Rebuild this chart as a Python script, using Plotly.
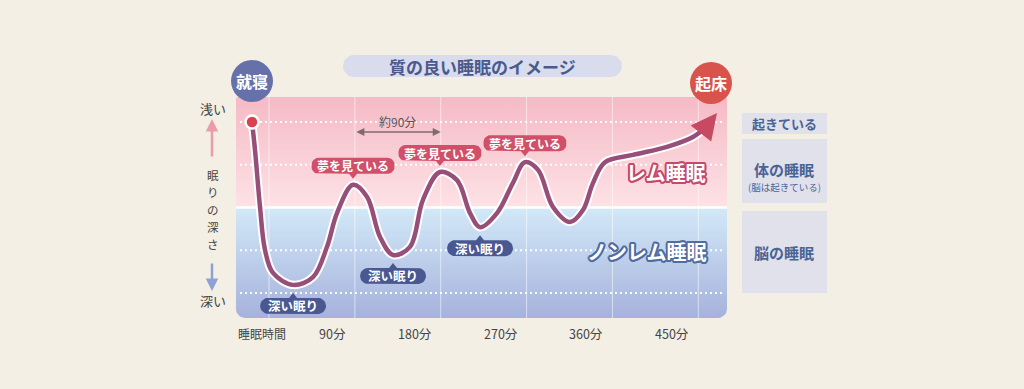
import numpy as np
import plotly.graph_objects as go

# ---------------- data ----------------
# sleep curve: time after falling asleep (minutes) vs sleep level
# level scale: 0 = deep sleep, 1 = light non-REM, 2 = REM/non-REM border, 3 = REM, 4 = awake
time_min = [-17.8, -14.7, -9.4, -4.2, 4.2, 25.2, 46.1, 60.8, 71.3, 88.1, 102.7, 116.4,
            130.0, 147.8, 161.4, 179.2, 197.1, 210.7, 221.2, 239.0, 255.6, 268.3, 282.0,
            297.7, 315.5, 329.1, 339.6, 352.2, 381.6, 417.2, 444.4, 458.0]
depth_level = [4.0, 3.35, 2.01, 1.01, 0.47, 0.19, 0.37, 1.08, 1.87, 2.53, 2.25, 1.31,
               0.89, 1.08, 2.18, 2.83, 2.64, 1.87, 1.54, 1.87, 2.57, 3.06, 2.88,
               2.01, 1.66, 1.94, 2.57, 3.06, 3.23, 3.42, 3.65, 3.88]
wake_time, wake_level = 469.6, 4.21

grid_minutes = [0, 90, 180, 270, 360, 450]
tick_minutes = [90, 180, 270, 360, 450]
tick_labels = ["90分", "180分", "270分", "360分", "450分"]
guide_levels = [4, 3, 1, 0]          # dotted lines
border_level = 2                      # REM / non-REM border

dream_times = [88.1, 179.2, 268.3]
dream_levels = [2.53, 2.83, 3.06]
deep_times = [25.2, 130.0, 221.2]
deep_levels = [0.19, 0.89, 1.54]

depth_title_chars = ["眠", "り", "の", "深", "さ"]

FONT = "Noto Sans CJK JP"

# ---------------- pixel <-> data helpers (layout only) ----------------
SX, X0 = 0.954, 269.0
SY, Y0 = 42.75, 293.0


def dx(px):
    return (px - X0) / SX


def dy(py):
    return (Y0 - py) / SY


def px_of(x):
    return X0 + SX * x


def py_of(v):
    return Y0 - SY * v


def rrect(x0, y0, x1, y1, r=(0, 0, 0, 0), ptr=None):
    pts = []

    def arc(cx, cy, rad, a0, a1):
        if rad <= 0:
            return [(cx, cy)]
        ang = np.radians(np.linspace(a0, a1, 8))
        return [(cx + rad * np.cos(a), cy + rad * np.sin(a)) for a in ang]

    tl, tr, br, bl = r
    pts += arc(x0 + tl, y0 + tl, tl, 180, 270)
    if ptr and ptr[0] == "up":
        c, L, W = ptr[1:]
        pts += [(c - W / 2, y0), (c, y0 - L), (c + W / 2, y0)]
    pts += arc(x1 - tr, y0 + tr, tr, 270, 360)
    pts += arc(x1 - br, y1 - br, br, 0, 90)
    if ptr and ptr[0] == "down":
        c, L, W = ptr[1:]
        pts += [(c + W / 2, y1), (c, y1 + L), (c - W / 2, y1)]
    pts += arc(x0 + bl, y1 - bl, bl, 90, 180)
    pts.append(pts[0])
    return [dx(p[0]) for p in pts], [dy(p[1]) for p in pts]


fig = go.Figure()


def poly(xs, ys, color=None, gradient=None):
    kw = dict(x=xs, y=ys, mode="lines", fill="toself", line=dict(width=0),
              hoverinfo="skip", showlegend=False)
    if gradient:
        kw["fillgradient"] = dict(type="vertical", colorscale=gradient)
    else:
        kw["fillcolor"] = color
    fig.add_trace(go.Scatter(**kw))


# panel bands
PL, PR, PT, PB = 236, 727, 97, 318
PM = py_of(border_level)
xs, ys = rrect(PL, PT, PR, PM, (2, 2, 0, 0))
poly(xs, ys, gradient=[[0, "#fde2e6"], [1, "#f5bac5"]])
xs, ys = rrect(PL, PM, PR, PB, (0, 0, 9, 9))
poly(xs, ys, gradient=[[0, "#a6b2dc"], [1, "#d2e9f8"]])

# vertical grid lines
gx, gy = [], []
for m in grid_minutes:
    gx += [m, m, None]
    gy += [dy(PB), dy(PT), None]
fig.add_trace(go.Scatter(x=gx, y=gy, mode="lines", line=dict(color="rgba(255,255,255,0.55)", width=1),
                         hoverinfo="skip", showlegend=False))

# dotted guide lines
hx, hy = [], []
for lv in guide_levels:
    hx += [dx(PL + 4), dx(PR - 2), None]
    hy += [lv, lv, None]
fig.add_trace(go.Scatter(x=hx, y=hy, mode="lines", line=dict(color="rgba(255,255,255,0.95)", width=2, dash="2px,3px"),
                         hoverinfo="skip", showlegend=False))
# border line
fig.add_trace(go.Scatter(x=[dx(PL), dx(PR)], y=[border_level, border_level], mode="lines",
                         line=dict(color="white", width=2.5), hoverinfo="skip", showlegend=False))

# sleep curve (white outline + colored line)
fig.add_trace(go.Scatter(x=time_min, y=depth_level, mode="lines", line=dict(color="white", width=8.5, shape="spline"),
                         hoverinfo="skip", showlegend=False))
fig.add_trace(go.Scatter(x=time_min, y=depth_level, mode="lines", line=dict(color="#974f7a", width=4.5, shape="spline"),
                         hoverinfo="skip", showlegend=False))
# arrow head at the end
fig.add_annotation(x=wake_time, y=wake_level, ax=time_min[-1], ay=depth_level[-1], axref="x", ayref="y",
                   xref="x", yref="y", showarrow=True, arrowhead=2, arrowsize=1.3, arrowwidth=4,
                   arrowcolor="#c64a61", text="")
# start point
fig.add_trace(go.Scatter(x=[time_min[0]], y=[depth_level[0]], mode="markers",
                         marker=dict(size=13, color="#d8414f", line=dict(color="white", width=2.5)),
                         hoverinfo="skip", showlegend=False))

# callouts
for t, lv in zip(dream_times, dream_levels):
    cx, tip = px_of(t), py_of(lv) - 6
    w, h = 83, 16
    xs, ys = rrect(cx - w / 2, tip - 5 - h, cx + w / 2, tip - 5, (7, 7, 7, 7), ("down", cx, 5, 8))
    poly(xs, ys, color="#d14f69")
    fig.add_annotation(x=dx(cx), y=dy(tip - 5 - h / 2), text="夢を見ている", showarrow=False,
                       font=dict(family=FONT, size=12, color="white", weight="bold"))
for t, lv in zip(deep_times, deep_levels):
    cx, tip = px_of(t), py_of(lv) + 8
    w, h = 66, 16
    xs, ys = rrect(cx - w / 2, tip + 5, cx + w / 2, tip + 5 + h, (8, 8, 8, 8), ("up", cx, 5, 8))
    poly(xs, ys, color="#4a5892")
    fig.add_annotation(x=dx(cx), y=dy(tip + 5 + h / 2), text="深い眠り", showarrow=False,
                       font=dict(family=FONT, size=12.5, color="white", weight="bold"))

# title pill
xs, ys = rrect(343, 55, 622, 77, (11, 11, 11, 11))
poly(xs, ys, color="#d8dcec")
fig.add_annotation(x=dx(482), y=dy(66.5), text="質の良い睡眠のイメージ", showarrow=False,
                   font=dict(family=FONT, size=17, color="#4a5a8c", weight="bold"))

# bubbles
for cx, cy, col, label in [(252, 81, "#6771a9", "就寝"), (711, 83, "#d8534c", "起床")]:
    rr = 21
    fig.add_shape(type="circle", xref="x", yref="y", x0=dx(cx - rr), x1=dx(cx + rr),
                  y0=dy(cy + rr), y1=dy(cy - rr), fillcolor=col, line=dict(width=0))
    fig.add_annotation(x=dx(cx), y=dy(cy), text=label, showarrow=False,
                       font=dict(family=FONT, size=16, color="white", weight="bold"))

# right-side boxes
for (y0, y1) in [(113, 134), (139, 203), (211, 293)]:
    fig.add_shape(type="rect", xref="x", yref="y", x0=dx(742), x1=dx(827), y0=dy(y1), y1=dy(y0),
                  fillcolor="#e1e1eb", line=dict(width=0))
BOXC = "#4b6395"
fig.add_annotation(x=dx(784), y=dy(123.5), text="起きている", showarrow=False,
                   font=dict(family=FONT, size=13, color=BOXC, weight="bold"))
fig.add_annotation(x=dx(784), y=dy(169), text="体の睡眠", showarrow=False,
                   font=dict(family=FONT, size=15, color=BOXC, weight="bold"))
fig.add_annotation(x=dx(784), y=dy(187), text="(脳は起きている)", showarrow=False,
                   font=dict(family=FONT, size=9.5, color=BOXC))
fig.add_annotation(x=dx(784), y=dy(252), text="脳の睡眠", showarrow=False,
                   font=dict(family=FONT, size=15, color=BOXC, weight="bold"))


def outline(col, r=2.0):
    parts = []
    for a in range(0, 360, 30):
        ox, oy = r * np.cos(np.radians(a)), r * np.sin(np.radians(a))
        parts.append(f"{ox:.1f}px {oy:.1f}px 0 {col}")
    return ", ".join(parts)


fig.add_annotation(x=dx(666), y=dy(172), text="レム睡眠", showarrow=False,
                   font=dict(family=FONT, size=20, color="white", weight="bold", shadow=outline("#c4496c")))
fig.add_annotation(x=dx(647), y=dy(251), text="ノンレム睡眠", showarrow=False,
                   font=dict(family=FONT, size=20, color="white", weight="bold", shadow=outline("#4f6ca3")))

# 約90分 span
fig.add_annotation(x=180, y=dy(132), ax=90, ay=dy(132), axref="x", ayref="y", xref="x", yref="y",
                   showarrow=True, arrowhead=2, startarrowhead=2, arrowside="end+start", arrowsize=1,
                   startarrowsize=1, arrowwidth=1.6, arrowcolor="#7f6b6b", text="")
fig.add_annotation(x=135, y=dy(121), text="約90分", showarrow=False,
                   font=dict(family=FONT, size=12, color="#555555"))

# left axis labels
TXT = "#444444"
fig.add_annotation(x=dx(213), y=dy(108), text="浅い", showarrow=False, font=dict(family=FONT, size=13, color=TXT))
fig.add_annotation(x=dx(213), y=dy(300), text="深い", showarrow=False, font=dict(family=FONT, size=13, color=TXT))
for i, ch in enumerate(depth_title_chars):
    fig.add_annotation(x=dx(213), y=dy(175 + 17.3 * i), text=ch, showarrow=False,
                       font=dict(family=FONT, size=11.5, color=TXT))
fig.add_annotation(x=dx(212), y=dy(119), ax=dx(212), ay=dy(158), axref="x", ayref="y", xref="x", yref="y",
                   showarrow=True, arrowhead=2, arrowsize=1, arrowwidth=2.5, arrowcolor="#eb9ca8", text="")
fig.add_annotation(x=dx(212), y=dy(291), ax=dx(212), ay=dy(262), axref="x", ayref="y", xref="x", yref="y",
                   showarrow=True, arrowhead=2, arrowsize=1, arrowwidth=2.5, arrowcolor="#8ea0d6", text="")

# bottom time labels
fig.add_annotation(x=dx(262), y=dy(333), text="睡眠時間", showarrow=False, font=dict(family=FONT, size=12, color=TXT))
for m, lab in zip(tick_minutes, tick_labels):
    fig.add_annotation(x=m, y=dy(333), text=lab, showarrow=False, xanchor="right", xshift=-7,
                       font=dict(family=FONT, size=12.5, color=TXT))

fig.update_layout(
    width=1024, height=389, margin=dict(l=0, r=0, t=0, b=0, pad=0),
    paper_bgcolor="#f4efe5", plot_bgcolor="#f4efe5",
    xaxis=dict(range=[dx(0), dx(1024)], visible=False, fixedrange=True),
    yaxis=dict(range=[dy(389), dy(0)], visible=False, fixedrange=True),
    showlegend=False,
)
fig.write_html("out.html", config={"displayModeBar": False},
               post_script="document.body.style.margin='0';document.body.style.overflow='hidden';")
